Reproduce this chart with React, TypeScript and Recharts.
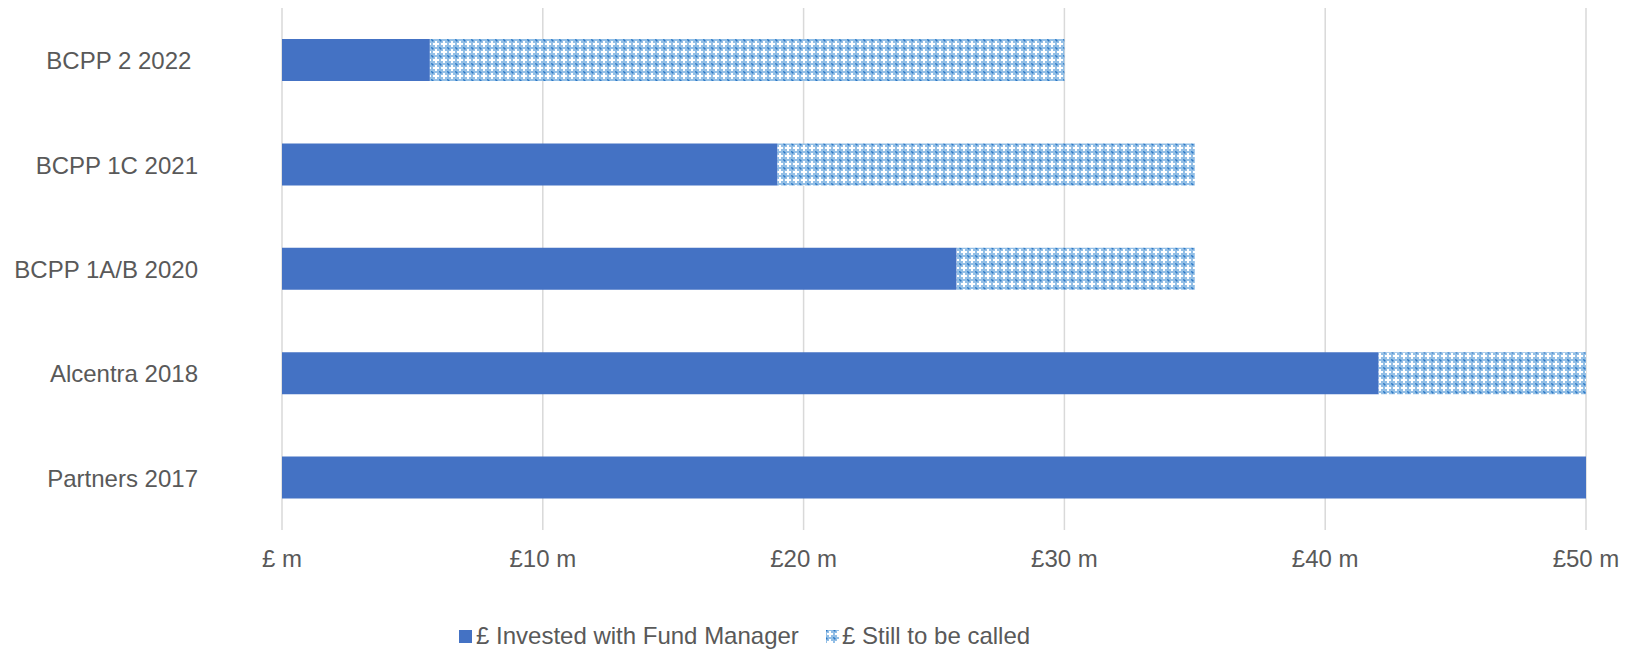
import React from 'react';
import { BarChart, Bar, XAxis, YAxis, CartesianGrid, Legend } from 'recharts';

const categories = ['BCPP 2 2022 ', 'BCPP 1C 2021', 'BCPP 1A/B 2020', 'Alcentra 2018', 'Partners 2017'];
const investedValues = [5.67, 19.0, 25.87, 42.05, 50];
const calledValues = [24.33, 16.0, 9.13, 7.95, 0];
const xTicks = [0, 10, 20, 30, 40, 50];
const seriesNames = ['£ Invested with Fund Manager', '£ Still to be called'];

const data = categories.map((c, i) => ({ name: c, invested: investedValues[i], called: calledValues[i] }));

const FONT = '"Liberation Sans", Arial, sans-serif';
const TEXT = '#595959';
const BLUE = '#4472C4';

const fmt = (v: number) => (v === 0 ? '£ m' : `£${v} m`);

const YTick = (props: any) => {
  const { x, y, payload } = props;
  return (
    <text x={x} y={y} dy={9} textAnchor="end" fill={TEXT} fontSize={24} fontFamily={FONT} style={{ whiteSpace: 'pre' }}>
      {payload.value}
    </text>
  );
};

const PatternSwatch = ({ id }: { id: string }) => (
  <pattern id={id} x="0" y="0" width="8" height="8" patternUnits="userSpaceOnUse">
    <rect x="0" y="0" width="8" height="8" fill="#93BFE6" />
    <rect x="3" y="1" width="2" height="6" fill="#FFFFFF" />
    <rect x="1" y="3" width="6" height="2" fill="#FFFFFF" />
    <rect x="0" y="0" width="1.5" height="1.5" fill="#2F78C4" />
    <rect x="7" y="7" width="1" height="1" fill="#3E86CC" />
    <rect x="7" y="0" width="1" height="1" fill="#5A9BD8" />
    <rect x="0" y="7" width="1" height="1" fill="#5A9BD8" />
  </pattern>
);

const LegendContent = () => (
  <div style={{ position: 'relative', height: 30, fontFamily: FONT, fontSize: 24, color: TEXT }}>
    <div style={{ position: 'absolute', left: 459, top: 0, display: 'flex', alignItems: 'center', whiteSpace: 'pre' }}>
      <svg width={13} height={13} style={{ marginRight: 4 }}>
        <rect x={0} y={0} width={13} height={13} fill={BLUE} />
      </svg>
      <span>{seriesNames[0]}</span>
    </div>
    <div style={{ position: 'absolute', left: 826, top: 0, display: 'flex', alignItems: 'center', whiteSpace: 'pre' }}>
      <svg width={13} height={13} style={{ marginRight: 3 }}>
        <defs>
          <PatternSwatch id="legendGrid" />
        </defs>
        <rect x={0} y={0} width={13} height={13} fill="url(#legendGrid)" />
      </svg>
      <span>{seriesNames[1]}</span>
    </div>
  </div>
);

export default function App() {
  return (
    <div style={{ position: 'absolute', left: 0, top: 0, width: 1637, height: 654, background: '#fff' }}>
      <BarChart
        width={1637}
        height={654}
        data={data}
        layout="vertical"
        margin={{ top: 8, right: 51, left: 0, bottom: 34 }}
      >
        <defs>
          <PatternSwatch id="smallGrid" />
        </defs>
        <CartesianGrid horizontal={false} vertical stroke="#D9D9D9" strokeWidth={1.5} />
        <XAxis
          type="number"
          domain={[0, 50]}
          ticks={xTicks}
          tickFormatter={fmt}
          axisLine={false}
          tickLine={false}
          tickSize={0}
          tickMargin={20}
          height={60}
          tick={{ fill: TEXT, fontSize: 24, fontFamily: FONT }}
        />
        <YAxis
          type="category"
          dataKey="name"
          width={282}
          axisLine={false}
          tickLine={false}
          tickSize={0}
          tickMargin={84}
          tick={<YTick />}
        />
        <Legend verticalAlign="bottom" align="left" wrapperStyle={{ left: 0, top: 622, width: 1637 }} content={<LegendContent />} />
        <Bar dataKey="invested" stackId="a" fill={BLUE} barSize={42} isAnimationActive={false} />
        <Bar dataKey="called" stackId="a" fill="url(#smallGrid)" barSize={42} isAnimationActive={false} />
      </BarChart>
    </div>
  );
}
